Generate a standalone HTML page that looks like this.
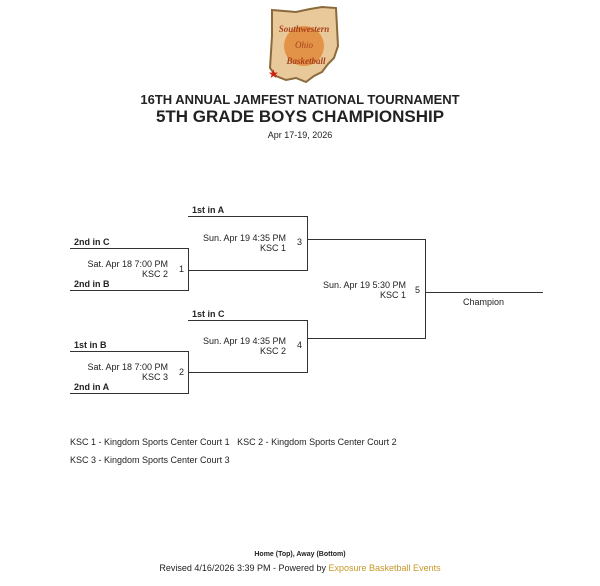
<!DOCTYPE html>
<html><head><style>
body{margin:0;width:600px;height:586px;background:#fff;font-family:"Liberation Sans",Arial,sans-serif;position:relative;overflow:hidden;color:#222}
.t{position:absolute;white-space:nowrap}
.l{position:absolute;background:#333}
.b{font-weight:bold;font-size:9px}
.s{font-size:9px;text-align:right;line-height:10px}
</style></head><body>
<svg style="position:absolute;left:266px;top:6px" width="76" height="78" viewBox="0 0 76 78">
<polygon points="6,4 30,6 44,3 56,1 70,2 72,40 68,52 62,58 56,66 48,70 40,76 30,72 20,74 10,70 4,62 6,30" fill="#e9c99a" stroke="#8a6a3a" stroke-width="2"/>
<circle cx="38" cy="40" r="20" fill="#e08a3a" opacity="0.85"/>
<text x="38" y="26" font-size="9" fill="#a8401a" text-anchor="middle" font-style="italic" font-weight="bold" font-family="Liberation Serif">Southwestern</text>
<text x="38" y="42" font-size="9" fill="#a8401a" text-anchor="middle" font-style="italic" font-family="Liberation Serif">Ohio</text>
<text x="40" y="58" font-size="9" fill="#a8401a" text-anchor="middle" font-style="italic" font-weight="bold" font-family="Liberation Serif">Basketball</text>
<text x="2" y="72" font-size="12" fill="#d02010">★</text>
</svg>
<div class="t" style="left:0;width:600px;text-align:center;top:92px;font-size:13px;font-weight:bold">16TH ANNUAL JAMFEST NATIONAL TOURNAMENT</div>
<div class="t" style="left:0;width:600px;text-align:center;top:107px;font-size:17px;font-weight:bold">5TH GRADE BOYS CHAMPIONSHIP</div>
<div class="t" style="left:0;width:600px;text-align:center;top:130px;font-size:9px">Apr 17-19, 2026</div>

<!-- game 1 -->
<div class="l" style="left:70px;top:248px;width:119px;height:1px"></div>
<div class="l" style="left:70px;top:290px;width:119px;height:1px"></div>
<div class="l" style="left:188px;top:248px;width:1px;height:43px"></div>
<div class="t b" style="left:74px;top:237px">2nd in C</div>
<div class="t b" style="left:74px;top:279px">2nd in B</div>
<div class="t s" style="right:432px;top:259px">Sat. Apr 18 7:00 PM<br>KSC 2</div>
<div class="t" style="left:179px;top:264px;font-size:9px">1</div>
<!-- game 2 -->
<div class="l" style="left:70px;top:351px;width:119px;height:1px"></div>
<div class="l" style="left:70px;top:393px;width:119px;height:1px"></div>
<div class="l" style="left:188px;top:351px;width:1px;height:43px"></div>
<div class="t b" style="left:74px;top:340px">1st in B</div>
<div class="t b" style="left:74px;top:382px">2nd in A</div>
<div class="t s" style="right:432px;top:362px">Sat. Apr 18 7:00 PM<br>KSC 3</div>
<div class="t" style="left:179px;top:367px;font-size:9px">2</div>
<!-- game 3 -->
<div class="l" style="left:188px;top:216px;width:120px;height:1px"></div>
<div class="l" style="left:188px;top:270px;width:120px;height:1px"></div>
<div class="l" style="left:307px;top:216px;width:1px;height:55px"></div>
<div class="t b" style="left:192px;top:205px">1st in A</div>
<div class="t s" style="right:314px;top:233px">Sun. Apr 19 4:35 PM<br>KSC 1</div>
<div class="t" style="left:297px;top:237px;font-size:9px">3</div>
<!-- game 4 -->
<div class="l" style="left:188px;top:320px;width:120px;height:1px"></div>
<div class="l" style="left:188px;top:372px;width:120px;height:1px"></div>
<div class="l" style="left:307px;top:320px;width:1px;height:53px"></div>
<div class="t b" style="left:192px;top:309px">1st in C</div>
<div class="t s" style="right:314px;top:336px">Sun. Apr 19 4:35 PM<br>KSC 2</div>
<div class="t" style="left:297px;top:340px;font-size:9px">4</div>
<!-- game 5 -->
<div class="l" style="left:307px;top:239px;width:119px;height:1px"></div>
<div class="l" style="left:307px;top:338px;width:119px;height:1px"></div>
<div class="l" style="left:425px;top:239px;width:1px;height:100px"></div>
<div class="t s" style="right:194px;top:280px">Sun. Apr 19 5:30 PM<br>KSC 1</div>
<div class="t" style="left:415px;top:285px;font-size:9px">5</div>
<div class="l" style="left:425px;top:292px;width:118px;height:1px"></div>
<div class="t" style="left:463px;top:297px;font-size:9px">Champion</div>

<div class="t" style="left:70px;top:437px;font-size:9px">KSC 1 - Kingdom Sports Center Court 1&nbsp;&nbsp;&nbsp;KSC 2 - Kingdom Sports Center Court 2</div>
<div class="t" style="left:70px;top:455px;font-size:9px">KSC 3 - Kingdom Sports Center Court 3</div>
<div class="t" style="left:0;width:600px;text-align:center;top:551px;font-size:7px;font-weight:bold">Home (Top), Away (Bottom)</div>
<div class="t" style="left:0;width:600px;text-align:center;top:563px;font-size:9px">Revised 4/16/2026 3:39 PM - Powered by <span style="color:#c8962a">Exposure Basketball Events</span></div>
</body></html>
